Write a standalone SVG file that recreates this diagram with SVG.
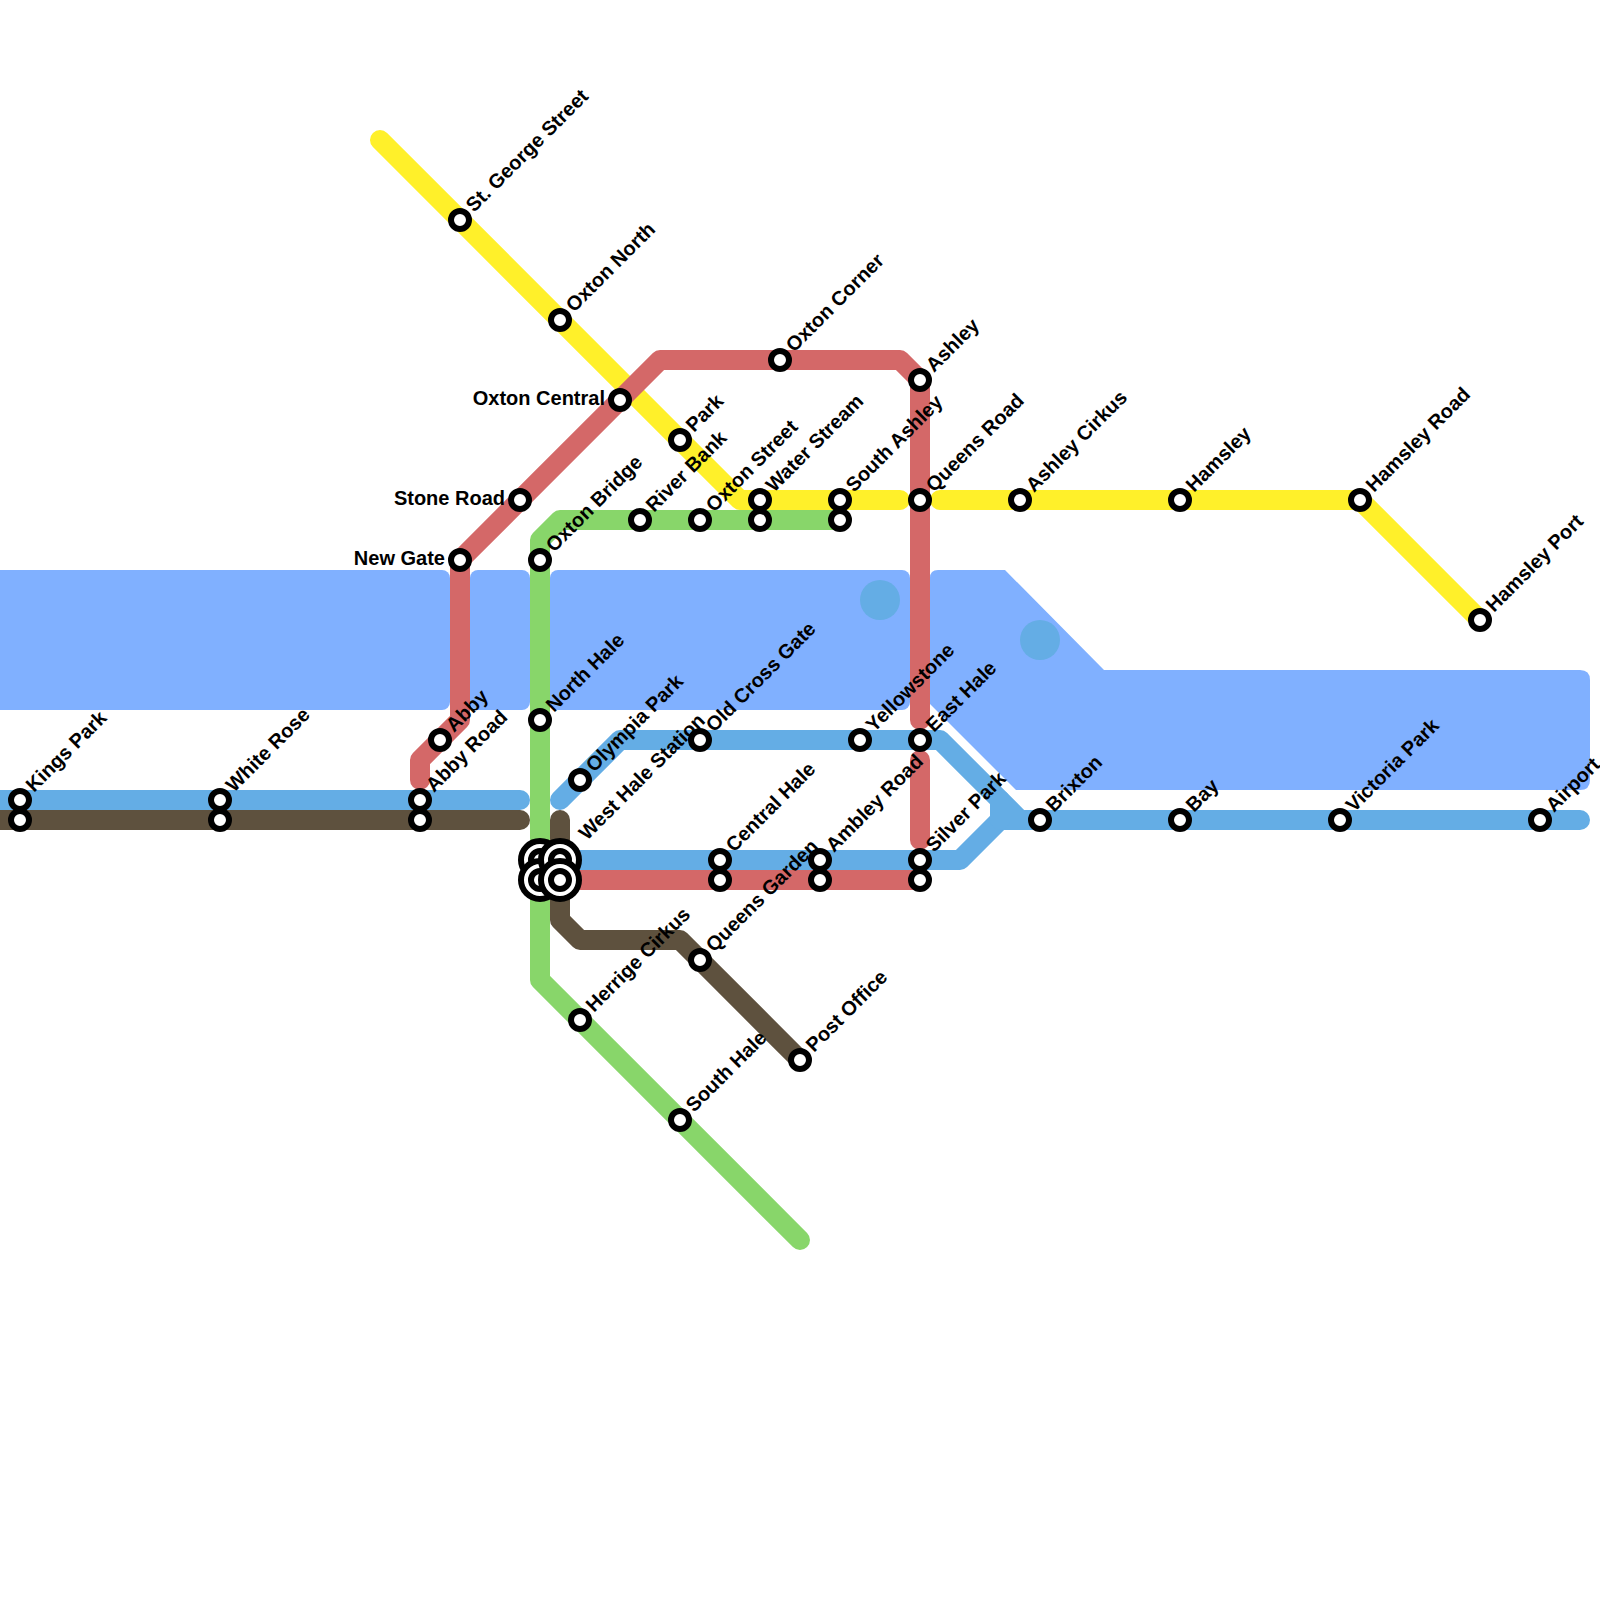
<svg xmlns="http://www.w3.org/2000/svg" width="1600" height="1600" viewBox="0 0 1600 1600">
<defs><style>
.w{fill:#80b0ff}
.l{fill:none;stroke-width:20;stroke-linecap:round;stroke-linejoin:round}
.b{stroke:#64ade5}.r{stroke:#d46868}.g{stroke:#88d66a}.n{stroke:#5e513e}.y{stroke:#fff02a}
.s{fill:#fff;stroke:#000;stroke-width:6}
text{font-family:"Liberation Sans",Arial,sans-serif;font-weight:700;font-size:20px;fill:#000}
.e{text-anchor:end}
</style>
<circle id="st" class="s" r="9"/>
<circle id="big" class="s" r="19"/>
</defs>
<rect width="1600" height="1600" fill="#fff"/>
<g id="water">
<rect class="w" x="-20" y="570" width="470" height="140" rx="8"/>
<rect class="w" x="470" y="570" width="60" height="140" rx="8"/>
<rect class="w" x="550" y="570" width="360" height="140" rx="8"/>
<path class="w" d="M938 570H1005L1104 670H1580Q1590 670 1590 680V780Q1590 790 1580 790H1016L930 704V578Q930 570 938 570Z"/>
<circle cx="880" cy="600" r="20" fill="#64ade5"/>
<circle cx="1040" cy="640" r="20" fill="#64ade5"/>
</g>
<g id="connectors">
<path class="l y" d="M380 140L740 500H900"/>
<path class="l y" d="M940 500H1360L1480 620"/>
<path class="l g" d="M840 520H560L540 540V980L800 1240"/>
<path class="l n" d="M0 820H520"/>
<path class="l n" d="M560 820V920L580 940H680L800 1060"/>
<path class="l r" d="M420 780V760L460 720V560L660 360H900L920 380V720"/>
<path class="l r" d="M920 760V840"/>
<path class="l r" d="M560 880H920"/>
<path class="l b" d="M0 800H520"/>
<path class="l b" d="M560 800L620 740H940L1020 820H1580"/>
<path class="l b" d="M560 860H960L1000 820H1020"/>
<path class="l b" d="M1000 820V800"/>
</g>
<g id="kings-park"><use href="#st" x="20" y="800"/><use href="#st" x="20" y="820"/><text transform="translate(34 793) rotate(-45)">Kings Park</text></g>
<g id="white-rose"><use href="#st" x="220" y="800"/><use href="#st" x="220" y="820"/><text transform="translate(234 793) rotate(-45)">White Rose</text></g>
<g id="abby-road"><use href="#st" x="420" y="800"/><use href="#st" x="420" y="820"/><text transform="translate(434 793) rotate(-45)">Abby Road</text></g>
<g id="abby"><use href="#st" x="440" y="740"/><text transform="translate(454 733) rotate(-45)">Abby</text></g>
<g id="new-gate"><use href="#st" x="460" y="560"/><text class="e" x="445" y="565">New Gate</text></g>
<g id="st-george-street"><use href="#st" x="460" y="220"/><text transform="translate(474 213) rotate(-45)">St. George Street</text></g>
<g id="stone-road"><use href="#st" x="520" y="500"/><text class="e" x="505" y="505">Stone Road</text></g>
<g id="oxton-north"><use href="#st" x="560" y="320"/><text transform="translate(574 313) rotate(-45)">Oxton North</text></g>
<g id="oxton-central"><use href="#st" x="620" y="400"/><text class="e" x="605" y="405">Oxton Central</text></g>
<g id="park"><use href="#st" x="680" y="440"/><text transform="translate(694 433) rotate(-45)">Park</text></g>
<g id="oxton-bridge"><use href="#st" x="540" y="560"/><text transform="translate(554 553) rotate(-45)">Oxton Bridge</text></g>
<g id="river-bank"><use href="#st" x="640" y="520"/><text transform="translate(654 513) rotate(-45)">River Bank</text></g>
<g id="oxton-street"><use href="#st" x="700" y="520"/><text transform="translate(714 513) rotate(-45)">Oxton Street</text></g>
<g id="water-stream"><use href="#st" x="760" y="500"/><use href="#st" x="760" y="520"/><text transform="translate(774 493) rotate(-45)">Water Stream</text></g>
<g id="south-ashley"><use href="#st" x="840" y="500"/><use href="#st" x="840" y="520"/><text transform="translate(854 493) rotate(-45)">South Ashley</text></g>
<g id="oxton-corner"><use href="#st" x="780" y="360"/><text transform="translate(794 353) rotate(-45)">Oxton Corner</text></g>
<g id="ashley"><use href="#st" x="920" y="380"/><text transform="translate(934 373) rotate(-45)">Ashley</text></g>
<g id="queens-road"><use href="#st" x="920" y="500"/><text transform="translate(934 493) rotate(-45)">Queens Road</text></g>
<g id="ashley-cirkus"><use href="#st" x="1020" y="500"/><text transform="translate(1034 493) rotate(-45)">Ashley Cirkus</text></g>
<g id="hamsley"><use href="#st" x="1180" y="500"/><text transform="translate(1194 493) rotate(-45)">Hamsley</text></g>
<g id="hamsley-road"><use href="#st" x="1360" y="500"/><text transform="translate(1374 493) rotate(-45)">Hamsley Road</text></g>
<g id="hamsley-port"><use href="#st" x="1480" y="620"/><text transform="translate(1494 613) rotate(-45)">Hamsley Port</text></g>
<g id="north-hale"><use href="#st" x="540" y="720"/><text transform="translate(554 713) rotate(-45)">North Hale</text></g>
<g id="olympia-park"><use href="#st" x="580" y="780"/><text transform="translate(594 773) rotate(-45)">Olympia Park</text></g>
<g id="old-cross-gate"><use href="#st" x="700" y="740"/><text transform="translate(714 733) rotate(-45)">Old Cross Gate</text></g>
<g id="yellowstone"><use href="#st" x="860" y="740"/><text transform="translate(874 733) rotate(-45)">Yellowstone</text></g>
<g id="east-hale"><use href="#st" x="920" y="740"/><text transform="translate(934 733) rotate(-45)">East Hale</text></g>
<g id="brixton"><use href="#st" x="1040" y="820"/><text transform="translate(1054 813) rotate(-45)">Brixton</text></g>
<g id="bay"><use href="#st" x="1180" y="820"/><text transform="translate(1194 813) rotate(-45)">Bay</text></g>
<g id="victoria-park"><use href="#st" x="1340" y="820"/><text transform="translate(1354 813) rotate(-45)">Victoria Park</text></g>
<g id="airport"><use href="#st" x="1540" y="820"/><text transform="translate(1554 813) rotate(-45)">Airport</text></g>
<g id="west-hale-station">
<use href="#big" x="540" y="860"/><use href="#st" x="540" y="860"/>
<use href="#big" x="540" y="880"/><use href="#st" x="540" y="880"/>
<use href="#big" x="560" y="860"/><use href="#st" x="560" y="860"/>
<use href="#big" x="560" y="880"/><use href="#st" x="560" y="880"/>
<text transform="translate(587 841) rotate(-45)">West Hale Station</text></g>
<g id="central-hale"><use href="#st" x="720" y="860"/><use href="#st" x="720" y="880"/><text transform="translate(734 853) rotate(-45)">Central Hale</text></g>
<g id="ambley-road"><use href="#st" x="820" y="860"/><use href="#st" x="820" y="880"/><text transform="translate(834 853) rotate(-45)">Ambley Road</text></g>
<g id="silver-park"><use href="#st" x="920" y="860"/><use href="#st" x="920" y="880"/><text transform="translate(934 853) rotate(-45)">Silver Park</text></g>
<g id="queens-garden"><use href="#st" x="700" y="960"/><text transform="translate(714 953) rotate(-45)">Queens Garden</text></g>
<g id="herrige-cirkus"><use href="#st" x="580" y="1020"/><text transform="translate(594 1013) rotate(-45)">Herrige Cirkus</text></g>
<g id="south-hale"><use href="#st" x="680" y="1120"/><text transform="translate(694 1113) rotate(-45)">South Hale</text></g>
<g id="post-office"><use href="#st" x="800" y="1060"/><text transform="translate(814 1053) rotate(-45)">Post Office</text></g>
</svg>
